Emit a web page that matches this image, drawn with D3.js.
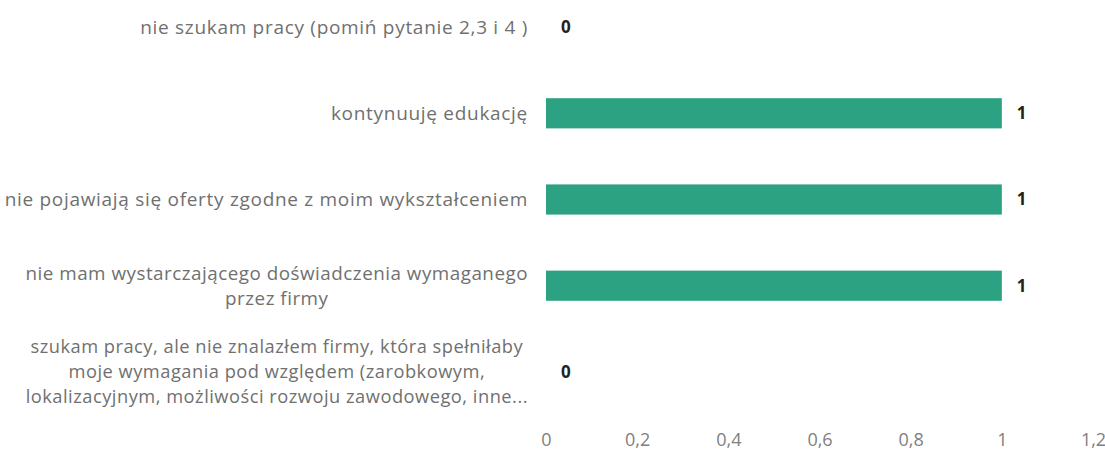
<!DOCTYPE html>
<html>
<head>
<meta charset="utf-8">
<script src="https://cdnjs.cloudflare.com/ajax/libs/d3/7.8.5/d3.min.js"></script>
<style>
  body { margin: 0; background: #fff; }
  svg text { font-family: "Open Sans", "Liberation Sans", sans-serif; }
</style>
</head>
<body>
<svg id="chart"></svg>
<script>
// categories top to bottom, each one split into its lines
var categories = [
  ['nie szukam pracy (pomiń pytanie 2,3 i 4 )'],
  ['kontynuuję edukację'],
  ['nie pojawiają się oferty zgodne z moim wykształceniem'],
  ['nie mam wystarczającego doświadczenia wymaganego', 'przez firmy'],
  ['szukam pracy, ale nie znalazłem firmy, która spełniłaby',
   'moje wymagania pod względem (zarobkowym,',
   'lokalizacyjnym, możliwości rozwoju zawodowego, inne...']
];
var values = [0, 1, 1, 1, 0];
var ticks = [0, 0.2, 0.4, 0.6, 0.8, 1, 1.2];

var width = 1105, height = 454;
var svg = d3.select('#chart').attr('width', width).attr('height', height);

var x = d3.scaleLinear().domain([0, 1.2]).range([546, 1093]);
var y = d3.scaleBand().domain(d3.range(categories.length))
    .range([-16, 415]).paddingInner(0.65).paddingOuter(0.325);

// bars
svg.selectAll('rect.bar')
    .data(values)
  .enter().append('rect')
    .attr('class', 'bar')
    .attr('x', x(0))
    .attr('y', function(d, i) { return y(i); })
    .attr('width', function(d) { return x(d) - x(0); })
    .attr('height', y.bandwidth())
    .attr('fill', '#2ca282');

// value labels
svg.selectAll('text.val')
    .data(values)
  .enter().append('text')
    .attr('class', 'val')
    .attr('x', function(d) { return x(d) + 15; })
    .attr('y', function(d, i) { return y(i) + y.bandwidth() / 2; })
    .attr('dy', '0.35em')
    .attr('font-size', 17)
    .attr('font-weight', 'bold')
    .attr('fill', '#222')
    .text(function(d) { return d; });

// category labels, lines centred in a right-aligned block
var labelRight = 528, lineH = 25, maxBlock = 512;
categories.forEach(function(lines, i) {
  var g = svg.append('g');
  var cy = y(i) + y.bandwidth() / 2;
  var ts = g.selectAll('text').data(lines).enter().append('text')
      .attr('font-size', 19)
      .attr('letter-spacing', 0.7)
      .attr('fill', '#707070')
      .attr('text-anchor', 'middle')
      .attr('y', function(d, j) { return cy + (j - (lines.length - 1) / 2) * lineH; })
      .attr('dy', '0.35em')
      .text(function(d) { return d; });
  var maxW = d3.max(ts.nodes(), function(n) { return n.getComputedTextLength(); });
  if (lines.length > 1 && maxW > maxBlock) {
    // shrink wrapped blocks so they stay inside the left edge
    ts.attr('font-size', 19 * maxBlock / maxW).attr('letter-spacing', 0.5);
    maxW = d3.max(ts.nodes(), function(n) { return n.getComputedTextLength(); });
  }
  ts.attr('x', labelRight - maxW / 2);
});

// x axis labels
var axis = d3.axisBottom(x).tickValues(ticks).tickSize(0)
    .tickFormat(function(d) { return String(d).replace('.', ','); });
var ax = svg.append('g').attr('transform', 'translate(0,430)').call(axis);
ax.select('.domain').remove();
ax.selectAll('text').attr('font-size', 18).attr('fill', '#808080')
    .style('font-family', '"Open Sans", "Liberation Sans", sans-serif');
</script>
</body>
</html>
